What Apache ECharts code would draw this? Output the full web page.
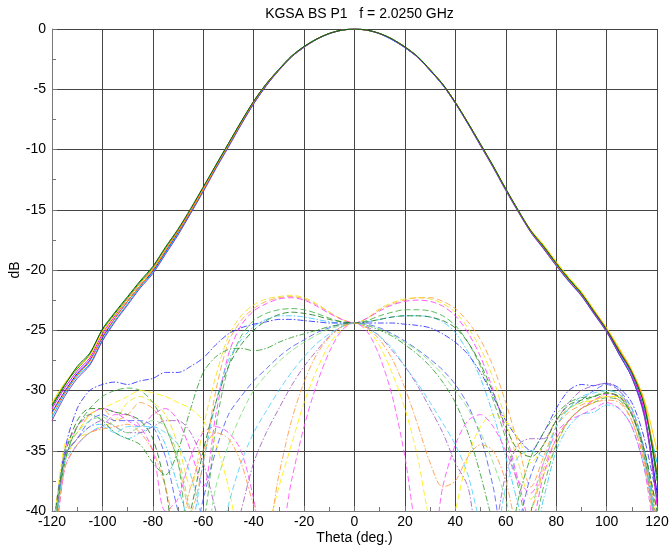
<!DOCTYPE html>
<html>
<head>
<meta charset="utf-8">
<script src="https://cdn.jsdelivr.net/npm/echarts@6/dist/echarts.min.js"></script>
<style>
  html, body { margin: 0; padding: 0; background: #fff; }
  #chart { width: 670px; height: 552px; }
</style>
</head>
<body>
<div id="chart"></div>
<script>
// Scan angles, 5 degree steps from -120 to 120
const theta = [-120,-115,-110,-105,-100,-95,-90,-85,-80,-75,-70,-65,-60,-55,-50,-45,-40,-35,-30,-25,-20,-15,-10,-5,0,
               5,10,15,20,25,30,35,40,45,50,55,60,65,70,75,80,85,90,95,100,105,110,115,120];
const xTicks = [-120,-100,-80,-60,-40,-20,0,20,40,60,80,100,120];
const yTicks = [-40,-35,-30,-25,-20,-15,-10,-5,0];

// Co-polar cuts (dB)
const co1 = [-31.8,-30.1,-28.6,-27.5,-25.6,-24.0,-22.6,-21.3,-20.1,-18.5,-16.9,-15.2,-13.4,-11.5,-9.7,-7.9,-6.2,-4.7,-3.4,-2.3,-1.5,-0.85,-0.38,-0.1,0,-0.1,-0.4,-0.9,-1.55,-2.35,-3.45,-4.65,-6.15,-7.85,-9.65,-11.45,-13.35,-15.15,-16.85,-18.2,-19.6,-20.9,-22.1,-23.6,-25.1,-27.0,-28.9,-32.0,-38.5];
const co2 = [-31.2,-29.5,-28.2,-27.0,-25.0,-23.6,-22.3,-21.0,-19.8,-18.2,-16.7,-15.0,-13.2,-11.3,-9.5,-7.7,-6.0,-4.55,-3.35,-2.25,-1.45,-0.82,-0.36,-0.09,0,-0.1,-0.37,-0.84,-1.48,-2.28,-3.38,-4.58,-6.08,-7.78,-9.58,-11.38,-13.28,-15.08,-16.78,-18.0,-19.4,-20.7,-21.9,-23.4,-24.9,-26.7,-28.4,-31.2,-37.5];
const co3 = [-32.2,-30.3,-28.8,-27.8,-25.8,-24.2,-22.8,-21.4,-20.2,-18.6,-17.0,-15.3,-13.4,-11.5,-9.7,-7.9,-6.15,-4.65,-3.42,-2.32,-1.52,-0.86,-0.39,-0.1,0,-0.1,-0.39,-0.86,-1.52,-2.32,-3.42,-4.62,-6.12,-7.82,-9.62,-11.42,-13.32,-15.12,-16.82,-18.15,-19.55,-20.85,-22.05,-23.55,-25.05,-26.85,-28.7,-31.6,-36.0];
const co4 = [-31.5,-29.8,-28.4,-27.3,-25.3,-23.8,-22.4,-21.1,-19.9,-18.3,-16.75,-15.05,-13.25,-11.35,-9.55,-7.75,-6.05,-4.58,-3.38,-2.28,-1.48,-0.84,-0.37,-0.1,0,-0.1,-0.38,-0.85,-1.5,-2.3,-3.4,-4.6,-6.1,-7.8,-9.6,-11.4,-13.3,-15.1,-16.8,-18.1,-19.5,-20.8,-22.0,-23.5,-25.0,-26.8,-28.6,-31.8,-39.5];
const co5 = [-31.0,-29.4,-28.1,-27.1,-25.1,-23.7,-22.4,-21.1,-19.9,-18.3,-16.8,-15.1,-13.3,-11.4,-9.6,-7.8,-6.1,-4.6,-3.4,-2.3,-1.5,-0.85,-0.38,-0.1,0,-0.1,-0.38,-0.85,-1.5,-2.3,-3.4,-4.6,-6.1,-7.8,-9.6,-11.4,-13.3,-15.1,-16.7,-17.9,-19.3,-20.6,-21.8,-23.3,-24.8,-26.5,-28.3,-30.8,-35.0];
const co6 = [-31.9,-30.2,-28.7,-27.6,-25.5,-24.0,-22.6,-21.3,-20.0,-18.4,-16.8,-15.1,-13.3,-11.4,-9.6,-7.8,-6.1,-4.6,-3.4,-2.3,-1.5,-0.85,-0.38,-0.1,0,-0.1,-0.38,-0.85,-1.5,-2.3,-3.4,-4.6,-6.1,-7.8,-9.6,-11.4,-13.3,-15.1,-16.8,-18.1,-19.5,-20.8,-22.0,-23.4,-24.9,-26.6,-28.4,-31.0,-36.8];
const co7 = [-32.5,-30.5,-29.0,-27.9,-25.9,-24.3,-22.9,-21.5,-20.3,-18.7,-17.1,-15.3,-13.5,-11.6,-9.8,-7.95,-6.2,-4.7,-3.45,-2.33,-1.52,-0.86,-0.39,-0.1,0,-0.1,-0.39,-0.87,-1.53,-2.34,-3.45,-4.66,-6.17,-7.88,-9.7,-11.5,-13.4,-15.2,-16.9,-18.25,-19.65,-20.95,-22.15,-23.65,-25.15,-27.0,-28.9,-32.2,-39.0];
const co8 = [-31.3,-29.6,-28.0,-26.9,-24.9,-23.5,-22.2,-20.9,-19.7,-18.1,-16.6,-14.9,-13.1,-11.3,-9.5,-7.7,-6.0,-4.55,-3.35,-2.25,-1.45,-0.83,-0.37,-0.09,0,-0.09,-0.37,-0.84,-1.48,-2.28,-3.38,-4.58,-6.08,-7.78,-9.55,-11.35,-13.25,-15.05,-16.75,-18.05,-19.45,-20.75,-21.95,-23.45,-24.95,-26.75,-28.5,-31.3,-37.0];

// Cross-polar cuts (dB)
const xp1 = [-44,-35,-33.5,-32,-31.5,-32.5,-32,-31,-31.5,-33,-36,-40,-36,-30,-26,-24.2,-23.2,-22.6,-22.3,-22.2,-22.4,-22.9,-23.5,-24.1,-24.4,-24.0,-23.3,-22.8,-22.5,-22.3,-22.3,-22.6,-23.2,-24.3,-25.8,-28,-31,-34.5,-38,-35.5,-33,-31.8,-31.2,-30.8,-30.5,-30.8,-32.5,-36,-42];
const xp2 = [-46,-36,-34,-33.5,-33,-32.5,-31,-30.5,-31,-32,-34.5,-38,-33,-28.8,-25.5,-23.8,-22.9,-22.4,-22.2,-22.1,-22.3,-22.8,-23.5,-24.1,-24.4,-24.0,-23.2,-22.7,-22.4,-22.3,-22.4,-22.8,-23.5,-24.8,-26.5,-29,-32.5,-36,-39,-37,-34.5,-32.5,-31.5,-31,-30.2,-30.5,-31.5,-35,-41];
const xp3 = [-45,-35,-33,-32,-31.5,-31.8,-32.5,-33,-32,-31.5,-32.5,-35,-38,-32,-27,-24.6,-23.4,-22.8,-22.4,-22.3,-22.5,-23,-23.6,-24.1,-24.4,-24.0,-23.4,-22.9,-22.6,-22.5,-22.6,-23,-23.8,-25.2,-27.2,-30,-33.5,-37.5,-41,-37,-34,-32.5,-31.5,-30.8,-30.3,-30.5,-31.8,-35.5,-43];
const xp4 = [-43,-36,-33,-31.5,-30.5,-30,-29.8,-30,-31,-33,-36,-42,-41,-33,-28,-25.5,-24.2,-23.6,-23.3,-23.2,-23.3,-23.6,-24,-24.3,-24.4,-24.2,-23.8,-23.5,-23.3,-23.3,-23.4,-23.8,-24.6,-26,-28,-30.8,-34,-38,-42,-38,-34.5,-32.5,-31.5,-31,-30.6,-30.8,-32,-35,-40];
const xp5 = [-44,-35.5,-34,-33,-32.8,-33.5,-34,-33.5,-33,-34.5,-38,-41,-36,-31,-27.5,-25.8,-24.7,-24.1,-23.8,-23.8,-23.9,-24.1,-24.3,-24.4,-24.4,-24.3,-24.1,-23.9,-23.8,-23.8,-23.9,-24.3,-25.2,-26.8,-29,-32,-35.5,-39.5,-43,-39,-35,-33,-32,-31.8,-31.2,-31.5,-33,-36.5,-42];
const xp6 = [-42,-35,-31.5,-30,-29.5,-29.3,-29.5,-29.2,-29,-28.5,-28.5,-28,-27.3,-26.2,-25.3,-24.8,-24.5,-24.3,-24.1,-24.1,-24.2,-24.3,-24.4,-24.4,-24.4,-24.4,-24.4,-24.4,-24.5,-24.6,-24.8,-25.3,-26,-27,-28.5,-30.5,-32.5,-34,-35,-33.5,-31.5,-30,-29.5,-29.6,-29.4,-29.8,-31,-34,-39];
const xp7 = [-44,-35.5,-34,-32.5,-32,-32.5,-32.5,-32.5,-33,-35.5,-40,-43,-39,-35,-32,-30.5,-29.2,-28.2,-27.2,-26.4,-25.8,-25.2,-24.8,-24.5,-24.4,-24.5,-24.8,-25.3,-25.9,-26.6,-27.4,-28.3,-29.5,-31.2,-33.8,-38,-43,-41,-37,-34.5,-32.5,-31.5,-30.8,-30,-29.5,-30,-31.5,-35,-42];
const xp8 = [-43,-36,-33,-32,-32.5,-33.5,-34,-34.5,-36,-37,-35,-31.5,-28.5,-27.2,-26.6,-26.5,-26.7,-26.5,-26,-25.6,-25.3,-25,-24.7,-24.5,-24.4,-24.6,-25,-25.5,-26.2,-27,-28,-29.3,-31,-33.5,-37,-41,-44,-39,-35.5,-33.5,-32,-31,-30.6,-30.5,-30.2,-30.6,-32,-35.5,-42];
const xp9 = [-43,-34.5,-33.5,-32,-31.5,-31,-30.5,-30,-30.2,-30.5,-31,-31.5,-32.5,-34.5,-38,-43,-45,-42,-38,-34.5,-31,-28.3,-26.2,-24.9,-24.4,-24.9,-26.3,-28.6,-31.5,-35.5,-41,-44,-40,-35.5,-33,-32,-32.5,-34,-36,-34.5,-32.5,-31.5,-31,-30.8,-30.5,-30.5,-32,-35,-41];
const xp10 = [-46,-36.5,-34.5,-33.5,-33,-32,-32,-33,-35,-40,-39,-35.5,-33.5,-33,-33.5,-35,-39,-44,-43,-37.5,-33,-29.5,-26.8,-25,-24.4,-25.1,-27.2,-30.5,-35.5,-42,-44,-38,-34.5,-32.5,-32,-33,-35,-37.5,-38.5,-36,-33.5,-32.5,-32,-31.5,-31,-31.5,-33,-36.5,-44];
const xp11 = [-44,-35.5,-34,-33,-32.5,-33,-33.5,-33.5,-33,-32.5,-32.5,-33.5,-36,-40,-44,-40,-36,-33.5,-31.5,-29.6,-28,-26.7,-25.5,-24.7,-24.4,-24.7,-25.5,-26.7,-28,-29.6,-31.5,-33.5,-36,-38,-43,-42,-37,-34.5,-34,-34,-32.5,-31,-30,-29.6,-29.4,-30,-32,-35,-41];
const xp12 = [-44,-35,-33.5,-32.5,-32.2,-33,-33.5,-33,-32.5,-33,-35.5,-40,-43,-38,-34.5,-32,-30,-28.7,-27.6,-26.7,-26,-25.4,-24.9,-24.6,-24.4,-24.6,-24.9,-25.4,-26,-26.7,-27.6,-28.7,-30,-31.5,-33.5,-36,-39,-43,-40,-36,-33,-31.5,-31,-30.5,-30,-30.3,-32,-35.5,-42];
const xp13 = [-45,-36,-34.5,-33.5,-33,-33.5,-33,-33,-33,-33.5,-34.5,-37,-41,-44,-39.5,-36,-33.5,-31.7,-30,-28.5,-27.2,-26.1,-25.3,-24.7,-24.4,-24.8,-25.5,-26.5,-28,-29.4,-31,-32.7,-34.5,-37,-41,-43,-38,-35.5,-35,-35.5,-33,-31.5,-30.5,-30.2,-30,-30.3,-31.5,-35,-42];
const xp14 = [-42,-35.5,-32.5,-31.5,-31.5,-31.8,-32,-32.5,-34,-38,-44,-40,-35,-31,-28,-26.2,-25,-24.2,-23.7,-23.5,-23.6,-23.8,-24.1,-24.3,-24.4,-24.3,-24.1,-23.9,-23.8,-23.8,-23.9,-24.2,-24.8,-26,-27.8,-30.2,-33,-35,-35.5,-34.5,-32.5,-31.2,-30.8,-30.5,-30.2,-30.5,-32,-35,-40];
const xp15 = [-45,-36.5,-34.5,-33.5,-33.2,-33,-32.8,-33.5,-35,-38,-42,-38,-35,-33.5,-34,-36,-39.5,-42,-37,-32.5,-29.3,-27,-25.6,-24.7,-24.4,-24.8,-25.8,-27.4,-29.8,-32.8,-36,-38,-37.5,-35.5,-34.5,-35,-37.5,-41,-40,-36.5,-34,-32.5,-31.5,-31,-30.8,-31,-32.5,-36,-43];

const coCuts = [co1, co2, co3, co4, co5, co6, co7, co8];
const coColors = ['#0000ff', '#00a000', '#00c0f0', '#ff00ff', '#ffd000', '#ff8c00', '#8040c0', '#006400'];

const xpCuts = [xp1, xp2, xp3, xp4, xp5, xp6, xp7, xp8, xp9, xp10, xp11, xp12, xp13, xp14, xp15];
const xpColors = ['#ffa040', '#f0e020', '#ff40ff', '#40b040', '#40c8ff', '#3030ff', '#5060ff', '#30a030',
                  '#ffee00', '#ff50ff', '#a060c0', '#80e080', '#50d0ff', '#208020', '#ff9940'];
const DASH = [6, 3];
const DASH_DOT = [6, 2, 1.5, 2];
const xpDash = [DASH, DASH, DASH, DASH, DASH_DOT, DASH_DOT, DASH, DASH_DOT,
                DASH, DASH, DASH_DOT, DASH, DASH, DASH, DASH_DOT];

const pairs = vals => theta.map((t, i) => [t, vals[i]]);

const series = [];
xpCuts.forEach((vals, i) => {
  series.push({
    type: 'line', data: pairs(vals), showSymbol: false, smooth: 0.3, clip: true,
    lineStyle: { color: xpColors[i], width: 1, type: xpDash[i], opacity: 0.85 }
  });
});
coCuts.forEach((vals, i) => {
  series.push({
    type: 'line', data: pairs(vals), showSymbol: false, smooth: 0.3, clip: true,
    lineStyle: { color: coColors[i], width: 1, type: 'solid' }
  });
});

const font = 'Liberation Sans, Arial, sans-serif';
const GRID = { left: 52, right: 13, top: 29, bottom: 41 };
const plotCenterX = GRID.left + (670 - GRID.left - GRID.right) / 2;

const chart = echarts.init(document.getElementById('chart'), null, { renderer: 'canvas' });
chart.setOption({
  animation: false,
  backgroundColor: '#fff',
  title: {
    text: 'KGSA BS P1   f = 2.0250 GHz',
    left: plotCenterX, top: 2, textAlign: 'center',
    textStyle: { fontFamily: font, fontSize: 14, fontWeight: 'normal', color: '#000' }
  },
  grid: Object.assign({ containLabel: false, outerBoundsMode: 'none' }, GRID),
  xAxis: {
    type: 'value', min: xTicks[0], max: xTicks[xTicks.length - 1], interval: 20,
    name: 'Theta (deg.)', nameLocation: 'middle', nameGap: 20, nameMoveOverlap: false,
    nameTextStyle: { fontFamily: font, fontSize: 14, color: '#000' },
    axisLine: { show: true, onZero: false, lineStyle: { color: '#777', width: 1 } },
    axisTick: { show: true, inside: true, length: 5, lineStyle: { color: '#777' } },
    minorTick: { show: true, splitNumber: 2, length: 4, lineStyle: { color: '#777' } },
    axisLabel: { fontFamily: font, fontSize: 14, color: '#000', margin: 4 },
    splitLine: { show: true, lineStyle: { color: '#444', width: 1 } }
  },
  yAxis: {
    type: 'value', min: yTicks[0], max: yTicks[yTicks.length - 1], interval: 5,
    name: 'dB', nameLocation: 'middle', nameGap: 30, nameRotate: 90, nameMoveOverlap: false,
    nameTextStyle: { fontFamily: font, fontSize: 14, color: '#000' },
    axisLine: { show: true, onZero: false, lineStyle: { color: '#777', width: 1 } },
    axisTick: { show: true, inside: true, length: 5, lineStyle: { color: '#777' } },
    minorTick: { show: true, splitNumber: 2, length: 4, lineStyle: { color: '#777' } },
    axisLabel: { fontFamily: font, fontSize: 14, color: '#000', margin: 6 },
    splitLine: { show: true, lineStyle: { color: '#444', width: 1 } }
  },
  series: series
});
</script>
</body>
</html>
